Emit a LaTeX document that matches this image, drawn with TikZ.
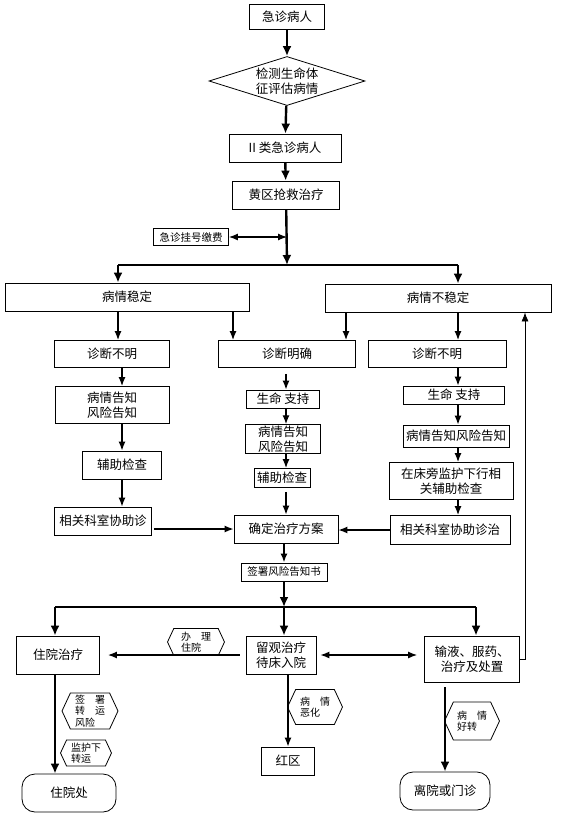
\documentclass[tikz,border=0pt]{standalone}
\usepackage{fontspec}
\setmainfont{Noto Sans CJK SC}
\usepackage{tikz}
\usetikzlibrary{positioning,arrows.meta,shapes.geometric,shapes.symbols}
\tikzset{
  flowbox/.style={draw, line width=0.8pt, fill=white, align=center, inner sep=1pt, font=\fontsize{12.5}{15}\selectfont},
  smallbox/.style={flowbox, font=\fontsize{10.5}{12}\selectfont},
  endbox/.style={flowbox, rounded corners=13pt},
  checkbox/.style={draw, line width=0.8pt, diamond, aspect=3.2, inner sep=0pt, align=center, font=\fontsize{12.5}{15}\selectfont},
  tagbox/.style={draw, line width=0.8pt, signal, signal to=east and west, signal pointer angle=130, align=left, inner sep=1pt, font=\fontsize{10}{11.5}\selectfont},
  mainarrow/.style={-{Latex[length=10pt,width=9pt]}, line width=2.4pt},
  mainline/.style={line width=2.4pt},
  subarrow/.style={-{Latex[length=9pt,width=7pt]}, line width=1.4pt},
  backarrow/.style={-{Latex[length=9pt,width=7pt]}, line width=0.8pt},
  twoway/.style={{Latex[length=9pt,width=7pt]}-{Latex[length=9pt,width=7pt]}, line width=1.2pt}
}

\begin{document}
\begin{tikzpicture}[>=Latex, x=1pt, y=-1pt]
  \useasboundingbox (0,0) rectangle (568,817);
  \fill[white] (0,0) rectangle (568,817);
  \node[flowbox, minimum width=75, minimum height=25] (pat) at (287,17) {急诊病人};
  \node[checkbox, minimum width=156, minimum height=49] (check) at (287,81) {检测生命体\\征评估病情};
  \node[flowbox, minimum width=112, minimum height=28] (cls) at (285,148) {II 类急诊病人};
  \node[flowbox, minimum width=107, minimum height=28] (yel) at (286,195) {黄区抢救治疗};
  \node[smallbox, minimum width=75, minimum height=17] (fee) at (191,237) {急诊挂号缴费};
  \node[flowbox, minimum width=244, minimum height=28] (stable) at (127,297) {病情稳定};
  \node[flowbox, minimum width=226, minimum height=28] (unstable) at (438,298) {病情不稳定};
  \node[flowbox, minimum width=115, minimum height=27] (unclearL) at (112,354) {诊断不明};
  \node[flowbox, minimum width=137, minimum height=27] (clear) at (287,354) {诊断明确};
  \node[flowbox, minimum width=138, minimum height=27] (unclearR) at (437,354) {诊断不明};
  \node[flowbox, minimum width=114, minimum height=37] (noticeL) at (112,405) {病情告知\\风险告知};
  \node[flowbox, minimum width=73, minimum height=18] (lifeM) at (283,399) {生命 支持};
  \node[flowbox, minimum width=75, minimum height=28] (noticeM) at (283,439) {病情告知\\风险告知};
  \node[flowbox, minimum width=79, minimum height=28] (auxL) at (122,465) {辅助检查};
  \node[flowbox, minimum width=56, minimum height=19] (auxM) at (282,478) {辅助检查};
  \node[flowbox, minimum width=101, minimum height=18] (lifeR) at (454,395) {生命 支持};
  \node[flowbox, minimum width=106, minimum height=22] (noticeR) at (456,436) {病情告知风险告知};
  \node[flowbox, minimum width=124, minimum height=37] (bedside) at (451,481) {在床旁监护下行相\\关辅助检查};
  \node[flowbox, minimum width=97, minimum height=28] (consultL) at (103,521) {相关科室协助诊};
  \node[flowbox, minimum width=104, minimum height=28] (plan) at (286,529) {确定治疗方案};
  \node[flowbox, minimum width=120, minimum height=29] (consultR) at (450,530) {相关科室协助诊治};
  \node[smallbox, minimum width=86, minimum height=18] (sign) at (284,572) {签署风险告知书};
  \node[flowbox, minimum width=83, minimum height=38] (hosp) at (58,655) {住院治疗};
  \node[flowbox, minimum width=70, minimum height=38] (obs) at (281,655) {留观治疗\\待床入院};
  \node[flowbox, minimum width=95, minimum height=46] (infu) at (472,659) {输液、服药、\\治疗及处置};
  \node[flowbox, minimum width=53, minimum height=28] (red) at (288,761) {红区};
  \node[endbox, minimum width=94, minimum height=38] (inpat) at (69,793) {住院处};
  \node[endbox, minimum width=90, minimum height=38] (leave) at (445,791) {离院或门诊};
  \node[tagbox, minimum width=57, minimum height=27] (tagAdmit) at (196,642) {办\quad 理\\住院};
  \node[tagbox, minimum width=56, minimum height=36] (tagRisk) at (90,711) {签\quad 署\\转\quad 运\\风险};
  \node[tagbox, minimum width=51, minimum height=26] (tagMon) at (86,753) {监护下\\转运};
  \node[tagbox, minimum width=55, minimum height=35] (tagWorse) at (315,707) {病\quad 情\\恶化};
  \node[tagbox, minimum width=55, minimum height=38] (tagBetter) at (472,721) {病\quad 情\\好转};
  \coordinate (splitA) at (287,265);
  \coordinate (splitAL) at (118,265);
  \coordinate (splitAR) at (458,265);
  \coordinate (jointL) at (233,0);
  \coordinate (jointR) at (346,0);
  \coordinate (splitB) at (284,607);
  \coordinate (splitBL) at (55,607);
  \coordinate (splitBR) at (476,607);
  \coordinate (loop) at (525,659);
  \draw[mainarrow] (pat) -- (check);
  \draw[mainarrow] (check) -- (cls);
  \draw[mainarrow] (cls) -- (yel);
  \draw[mainarrow] (yel) -- (splitA);
  \draw[twoway] (fee.east) -- (fee.east -| splitA);
  \draw[mainline] (splitAL) -- (splitAR);
  \draw[mainarrow] (splitAL) -- (splitAL |- stable.north);
  \draw[mainarrow] (splitAR) -- (splitAR |- unstable.north);
  \draw[subarrow] (stable.south -| splitAL) -- (unclearL.north -| splitAL);
  \draw[subarrow] (stable.south -| jointL) -- (clear.north -| jointL);
  \draw[subarrow] (unstable.south -| jointR) -- (clear.north -| jointR);
  \draw[subarrow] (unstable.south -| splitAR) -- (unclearR.north -| splitAR);
  \draw[subarrow] (unclearL.south -| auxL) -- (noticeL.north -| auxL);
  \draw[subarrow] (noticeL.south -| auxL) -- (auxL.north);
  \draw[subarrow] (auxL.south) -- (consultL.north -| auxL);
  \draw[subarrow, shorten <=2] (consultL.east |- plan.west) -- (plan.west);
  \draw[subarrow, shorten <=6] (clear.south -| plan.north) -- (lifeM.north -| plan.north);
  \draw[subarrow] (lifeM.south -| plan.north) -- (noticeM.north -| plan.north);
  \draw[subarrow] (noticeM.south -| plan.north) -- (auxM.north -| plan.north);
  \draw[subarrow, shorten <=4] (auxM.south -| plan.north) -- (plan.north);
  \draw[subarrow] (unclearR.south -| splitAR) -- (lifeR.north -| splitAR);
  \draw[subarrow] (lifeR.south -| splitAR) -- (noticeR.north -| splitAR);
  \draw[subarrow] (noticeR.south -| splitAR) -- (bedside.north -| splitAR);
  \draw[subarrow] (bedside.south -| splitAR) -- (consultR.north -| splitAR);
  \draw[subarrow] (consultR.west) -- (consultR.west -| plan.east);
  \draw[subarrow, line width=1.8pt] (plan.south -| sign.north) -- (sign.north);
  \draw[mainarrow] (sign) -- (splitB);
  \draw[mainline] (splitBL) -- (splitBR);
  \draw[mainarrow] (splitBL) -- (splitBL |- hosp.north);
  \draw[mainarrow] (splitB) -- (splitB |- obs.north);
  \draw[mainarrow] (splitBR) -- (splitBR |- infu.north);
  \draw[subarrow, shorten <=6, shorten >=8] (obs.west) -- (obs.west -| hosp.east);
  \draw[twoway, shorten <=4, shorten >=7] (obs.east) -- (obs.east -| infu.west);
  \draw[backarrow] (infu.east) -- (loop) -- (loop |- unstable.south);
  \draw[subarrow] (obs.south -| red.north) -- (red.north);
  \draw[mainarrow] (hosp.south -| splitBL) -- (splitBL |- inpat.north);
  \draw[mainarrow, shorten <=5] (infu.south -| leave.north) -- (leave.north);
\end{tikzpicture}
\end{document}
